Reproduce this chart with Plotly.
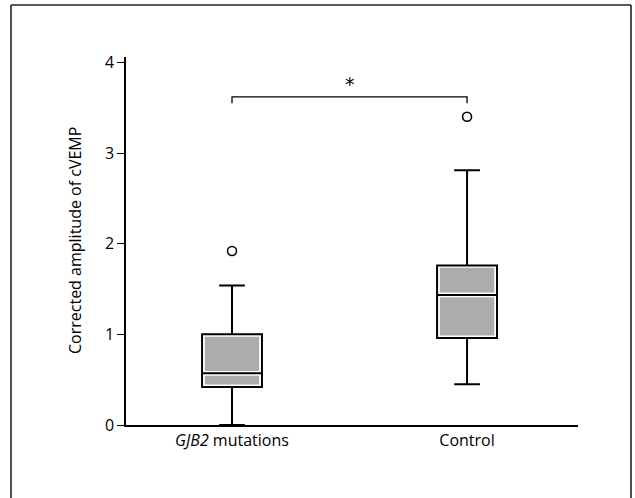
import plotly.graph_objects as go

# ---- data ----
categories = ["<i>GJB2</i> mutations", "Control"]
q1 = [0.42, 0.96]
median = [0.57, 1.435]
q3 = [1.00, 1.76]
lower_whisker = [0.00, 0.45]
upper_whisker = [1.54, 2.81]
outliers = [[1.92], [3.40]]
y_ticks = [0, 1, 2, 3, 4]
sig_label = "*"
sig_bracket_y = 3.62
sig_bracket_drop = 0.07

W, H = 635, 498
ml, mr, mt, mb = 126, 57, 57, 73
box_w = 0.255
xs = list(range(len(categories)))

fig = go.Figure()
for i, cat in enumerate(categories):
    fig.add_trace(go.Box(
        x=[i], q1=[q1[i]], median=[median[i]], q3=[q3[i]],
        lowerfence=[lower_whisker[i]], upperfence=[upper_whisker[i]],
        width=box_w, whiskerwidth=0.43,
        fillcolor="white", line=dict(color="black", width=2),
        boxpoints=False, showlegend=False, hoverinfo="skip",
    ))
    fig.add_trace(go.Scatter(
        x=[i] * len(outliers[i]), y=outliers[i], mode="markers",
        marker=dict(symbol="circle-open", size=9, color="black",
                    line=dict(width=1.6, color="black")),
        showlegend=False, hoverinfo="skip",
    ))

# inner grey fill (inset, leaving a thin white margin as in the original)
plot_w = W - ml - mr
plot_h = H - mt - mb
yr = [0, 4.06]
xr = [-0.451, 1.472]
ppx = plot_w / (xr[1] - xr[0])
ppy = plot_h / (yr[1] - yr[0])
dx = 2.8 / ppx
dy = 2.4 / ppy
shapes = []
for i in xs:
    for lo, hi in [(q1[i], median[i]), (median[i], q3[i])]:
        shapes.append(dict(type="rect", xref="x", yref="y",
                           x0=i - box_w / 2 + dx, x1=i + box_w / 2 - dx,
                           y0=lo + dy, y1=hi - dy,
                           fillcolor="#acacac", line=dict(width=0), layer="above"))

# significance bracket
shapes.append(dict(type="path", xref="x", yref="y",
                   path=f"M {xs[0]},{sig_bracket_y - sig_bracket_drop} L {xs[0]},{sig_bracket_y} "
                        f"L {xs[1]},{sig_bracket_y} L {xs[1]},{sig_bracket_y - sig_bracket_drop}",
                   line=dict(color="black", width=1.3)))

# outer frame (left, top, right)
fx0 = (11 - ml) / plot_w
fx1 = (631 - ml) / plot_w
fy1 = (H - mb - 5) / plot_h
fy0 = -(mb + 5) / plot_h
frame_line = dict(color="#222222", width=1.6)
shapes.append(dict(type="line", xref="paper", yref="paper", x0=fx0, x1=fx0, y0=fy0, y1=fy1, line=frame_line))
shapes.append(dict(type="line", xref="paper", yref="paper", x0=fx0, x1=fx1, y0=fy1, y1=fy1, line=frame_line))
shapes.append(dict(type="line", xref="paper", yref="paper", x0=fx1, x1=fx1, y0=fy0, y1=fy1, line=frame_line))

font = dict(family="Open Sans, Arial, sans-serif", size=16, color="black")

fig.update_layout(
    width=W, height=H,
    margin=dict(l=ml, r=mr, t=mt, b=mb),
    paper_bgcolor="white", plot_bgcolor="white",
    font=font,
    shapes=shapes,
    xaxis=dict(range=xr, tickmode="array", tickvals=xs, ticktext=categories,
               showline=True, linecolor="black", linewidth=1.5, ticks="",
               showgrid=False, zeroline=False, tickfont=font),
    yaxis=dict(range=yr, tickmode="array", tickvals=y_ticks,
               showline=True, linecolor="black", linewidth=1.5,
               ticks="outside", ticklen=7, tickwidth=1.3, tickcolor="black",
               showgrid=False, zeroline=False, tickfont=font),
    annotations=[
        dict(text="Corrected amplitude of cVEMP", xref="paper", yref="paper",
             x=(75 - ml) / plot_w, y=0.5, textangle=-90, showarrow=False,
             xanchor="center", yanchor="middle", font=font),
        dict(text=sig_label, xref="x", yref="y", x=(xs[0] + xs[1]) / 2,
             y=sig_bracket_y + 0.0, showarrow=False, yanchor="bottom",
             font=dict(family="DejaVu Sans", size=19, color="black")),
    ],
)

fig.write_html("out.html")
